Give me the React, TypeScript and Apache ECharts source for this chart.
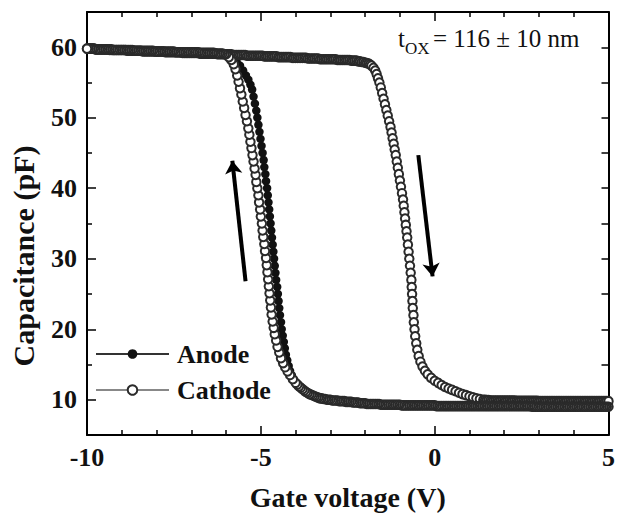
import React, { useEffect, useRef } from "react";
import * as echarts from "echarts";

const FONT = '"Liberation Serif", "Times New Roman", Times, serif';

// Forward sweep (-10 V -> +5 V), shared by both electrodes
const forwardSweep: number[][] = [
  [-10.0,59.8],[-9.95,59.8],[-9.9,59.8],[-9.85,59.8],[-9.8,59.8],[-9.75,59.7],[-9.7,59.7],[-9.65,59.7],[-9.6,59.7],[-9.55,59.7],
  [-9.5,59.7],[-9.45,59.7],[-9.4,59.7],[-9.35,59.6],[-9.3,59.6],[-9.25,59.6],[-9.2,59.6],[-9.15,59.6],[-9.1,59.6],[-9.05,59.6],
  [-9.0,59.6],[-8.95,59.6],[-8.9,59.6],[-8.85,59.5],[-8.8,59.5],[-8.75,59.5],[-8.7,59.5],[-8.65,59.5],[-8.6,59.5],[-8.55,59.5],
  [-8.5,59.5],[-8.45,59.5],[-8.4,59.4],[-8.35,59.4],[-8.3,59.4],[-8.25,59.4],[-8.2,59.4],[-8.15,59.4],[-8.1,59.4],[-8.05,59.4],
  [-8.0,59.4],[-7.95,59.4],[-7.9,59.4],[-7.85,59.4],[-7.8,59.4],[-7.75,59.3],[-7.7,59.3],[-7.65,59.3],[-7.6,59.3],[-7.55,59.3],
  [-7.5,59.3],[-7.45,59.3],[-7.4,59.3],[-7.35,59.3],[-7.3,59.3],[-7.25,59.2],[-7.2,59.2],[-7.15,59.2],[-7.1,59.2],[-7.05,59.2],
  [-7.0,59.2],[-6.95,59.2],[-6.9,59.2],[-6.85,59.2],[-6.8,59.2],[-6.75,59.1],[-6.7,59.1],[-6.65,59.1],[-6.6,59.1],[-6.55,59.1],
  [-6.5,59.1],[-6.45,59.1],[-6.4,59.1],[-6.35,59.1],[-6.3,59.1],[-6.25,59.0],[-6.2,59.0],[-6.15,59.0],[-6.1,59.0],[-6.05,59.0],
  [-6.0,59.0],[-5.95,59.0],[-5.9,59.0],[-5.85,59.0],[-5.8,58.9],[-5.75,58.9],[-5.7,58.9],[-5.65,58.9],[-5.6,58.9],[-5.55,58.9],
  [-5.5,58.9],[-5.45,58.9],[-5.4,58.8],[-5.35,58.8],[-5.3,58.8],[-5.25,58.8],[-5.2,58.8],[-5.15,58.8],[-5.1,58.8],[-5.05,58.8],
  [-5.0,58.8],[-4.95,58.8],[-4.9,58.7],[-4.85,58.7],[-4.8,58.7],[-4.75,58.7],[-4.7,58.7],[-4.65,58.7],[-4.6,58.7],[-4.55,58.7],
  [-4.5,58.6],[-4.45,58.6],[-4.4,58.6],[-4.35,58.6],[-4.3,58.6],[-4.25,58.6],[-4.2,58.6],[-4.15,58.6],[-4.1,58.5],[-4.05,58.5],
  [-4.0,58.5],[-3.95,58.5],[-3.9,58.5],[-3.85,58.5],[-3.8,58.5],[-3.75,58.5],[-3.7,58.5],[-3.65,58.4],[-3.6,58.4],[-3.55,58.4],
  [-3.5,58.4],[-3.45,58.4],[-3.4,58.4],[-3.35,58.4],[-3.3,58.3],[-3.25,58.3],[-3.2,58.3],[-3.15,58.3],[-3.1,58.3],[-3.05,58.3],
  [-3.0,58.3],[-2.95,58.3],[-2.9,58.3],[-2.85,58.3],[-2.8,58.2],[-2.75,58.2],[-2.7,58.2],[-2.65,58.2],[-2.6,58.2],[-2.55,58.2],
  [-2.5,58.2],[-2.45,58.2],[-2.4,58.1],[-2.35,58.1],[-2.3,58.1],[-2.25,58.1],[-2.2,58.0],[-2.15,58.0],[-2.1,57.9],[-2.05,57.9],
  [-2.0,57.8],[-1.95,57.75],[-1.9,57.7],[-1.86,57.55],[-1.82,57.4],[-1.76,57.1],[-1.71,56.7],[-1.67,56.2],[-1.63,55.6],[-1.59,55.0],
  [-1.55,54.3],[-1.51,53.5],[-1.47,52.7],[-1.43,51.9],[-1.39,51.1],[-1.35,50.3],[-1.31,49.5],[-1.27,48.7],[-1.24,47.9],[-1.21,47.1],
  [-1.18,46.3],[-1.15,45.5],[-1.12,44.7],[-1.09,43.8],[-1.06,42.9],[-1.03,42.0],[-1.0,41.1],[-0.97,40.2],[-0.94,39.3],[-0.91,38.4],
  [-0.89,37.5],[-0.87,36.6],[-0.85,35.7],[-0.83,34.8],[-0.81,33.9],[-0.79,33.0],[-0.77,32.0],[-0.75,31.0],[-0.73,30.0],[-0.71,29.0],
  [-0.69,28.0],[-0.67,27.0],[-0.66,26.0],[-0.65,25.0],[-0.64,24.0],[-0.63,23.0],[-0.61,22.0],[-0.6,21.0],[-0.58,20.0],[-0.56,19.0],
  [-0.53,18.0],[-0.5,17.1],[-0.46,16.2],[-0.41,15.4],[-0.35,14.7],[-0.28,14.1],[-0.2,13.6],[-0.1,13.1],[0.0,12.7],[0.1,12.4],
  [0.2,12.1],[0.3,11.8],[0.4,11.6],[0.5,11.4],[0.6,11.2],[0.7,11.0],[0.8,10.8],[0.9,10.65],[1.0,10.5],[1.1,10.35],
  [1.2,10.2],[1.3,10.1],[1.4,10.0],[1.45,10.0],[1.5,9.95],[1.55,9.95],[1.6,9.9],[1.65,9.9],[1.7,9.9],[1.75,9.9],
  [1.8,9.9],[1.85,9.9],[1.9,9.9],[1.95,9.9],[2.0,9.9],[2.05,9.9],[2.1,9.9],[2.15,9.9],[2.2,9.9],[2.25,9.9],
  [2.3,9.9],[2.35,9.85],[2.4,9.85],[2.45,9.85],[2.5,9.85],[2.55,9.85],[2.6,9.85],[2.65,9.85],[2.7,9.85],[2.75,9.85],
  [2.8,9.85],[2.85,9.85],[2.9,9.85],[2.95,9.85],[3.0,9.8],[3.05,9.8],[3.1,9.8],[3.15,9.8],[3.2,9.8],[3.25,9.8],
  [3.3,9.8],[3.35,9.8],[3.4,9.8],[3.45,9.8],[3.5,9.8],[3.55,9.8],[3.6,9.8],[3.65,9.8],[3.7,9.8],[3.75,9.8],
  [3.8,9.8],[3.85,9.8],[3.9,9.8],[3.95,9.8],[4.0,9.8],[4.05,9.8],[4.1,9.8],[4.15,9.8],[4.2,9.8],[4.25,9.8],
  [4.3,9.8],[4.35,9.8],[4.4,9.8],[4.45,9.8],[4.5,9.8],[4.55,9.8],[4.6,9.8],[4.65,9.8],[4.7,9.8],[4.75,9.8],
  [4.8,9.8],[4.85,9.8],[4.9,9.8],[4.95,9.8],[5.0,9.8],
];

// Reverse sweep, low-capacitance part (+5 V -> -3 V), shared
const reverseLow: number[][] = [
  [5.0,9.0],[4.95,9.0],[4.9,9.0],[4.85,9.0],[4.8,9.0],[4.75,9.0],[4.7,9.0],[4.65,9.0],[4.6,9.0],[4.55,9.0],
  [4.5,9.0],[4.45,9.0],[4.4,9.0],[4.35,9.0],[4.3,9.0],[4.25,9.0],[4.2,9.0],[4.15,9.0],[4.1,9.0],[4.05,9.0],
  [4.0,9.0],[3.95,9.0],[3.9,9.0],[3.85,9.0],[3.8,9.0],[3.75,9.0],[3.7,9.0],[3.65,9.0],[3.6,9.0],[3.55,9.0],
  [3.5,9.0],[3.45,9.0],[3.4,9.0],[3.35,9.0],[3.3,9.0],[3.25,9.0],[3.2,9.0],[3.15,9.0],[3.1,9.0],[3.05,9.0],
  [3.0,9.0],[2.95,9.0],[2.9,9.0],[2.85,9.0],[2.8,9.0],[2.75,9.1],[2.7,9.1],[2.65,9.1],[2.6,9.1],[2.55,9.1],
  [2.5,9.1],[2.45,9.1],[2.4,9.1],[2.35,9.1],[2.3,9.1],[2.25,9.1],[2.2,9.1],[2.15,9.1],[2.1,9.1],[2.05,9.1],
  [2.0,9.1],[1.95,9.1],[1.9,9.1],[1.85,9.1],[1.8,9.1],[1.75,9.1],[1.7,9.1],[1.65,9.1],[1.6,9.1],[1.55,9.1],
  [1.5,9.1],[1.45,9.1],[1.4,9.1],[1.35,9.1],[1.3,9.1],[1.25,9.1],[1.2,9.1],[1.15,9.1],[1.1,9.1],[1.05,9.1],
  [1.0,9.1],[0.95,9.1],[0.9,9.1],[0.85,9.1],[0.8,9.1],[0.75,9.1],[0.7,9.1],[0.65,9.1],[0.6,9.1],[0.55,9.1],
  [0.5,9.1],[0.45,9.1],[0.4,9.1],[0.35,9.1],[0.3,9.1],[0.25,9.1],[0.2,9.1],[0.15,9.1],[0.1,9.1],[0.05,9.1],
  [0.0,9.2],[-0.05,9.2],[-0.1,9.2],[-0.15,9.2],[-0.2,9.2],[-0.25,9.2],[-0.3,9.2],[-0.35,9.2],[-0.4,9.2],[-0.45,9.2],
  [-0.5,9.2],[-0.55,9.2],[-0.6,9.2],[-0.65,9.2],[-0.7,9.2],[-0.75,9.2],[-0.8,9.2],[-0.85,9.2],[-0.9,9.2],[-0.95,9.2],
  [-1.0,9.3],[-1.05,9.3],[-1.1,9.3],[-1.15,9.3],[-1.2,9.3],[-1.25,9.3],[-1.3,9.3],[-1.35,9.3],[-1.4,9.3],[-1.45,9.3],
  [-1.5,9.3],[-1.55,9.3],[-1.6,9.4],[-1.65,9.4],[-1.7,9.4],[-1.75,9.4],[-1.8,9.4],[-1.85,9.4],[-1.9,9.4],[-1.95,9.4],
  [-2.0,9.5],[-2.05,9.5],[-2.1,9.5],[-2.15,9.5],[-2.2,9.6],[-2.25,9.6],[-2.3,9.6],[-2.35,9.6],[-2.4,9.7],[-2.45,9.7],
  [-2.5,9.7],[-2.55,9.7],[-2.6,9.8],[-2.65,9.8],[-2.7,9.8],[-2.75,9.8],[-2.8,9.9],[-2.85,9.9],[-2.9,9.9],[-2.95,9.9],
  [-3.0,10.0],
];

// Reverse sweep, rising part - cathode
const reverseRiseCathode: number[][] = [
  [-3.05,10.0],[-3.1,10.0],[-3.15,10.1],[-3.2,10.1],[-3.25,10.2],[-3.3,10.2],[-3.35,10.3],[-3.4,10.4],[-3.45,10.5],[-3.5,10.6],
  [-3.55,10.7],[-3.6,10.8],[-3.65,10.95],[-3.7,11.1],[-3.75,11.3],[-3.8,11.5],[-3.85,11.7],[-3.9,11.9],[-3.95,12.15],[-4.0,12.4],
  [-4.08,12.9],[-4.16,13.5],[-4.23,14.0],[-4.3,14.6],[-4.36,15.2],[-4.42,15.9],[-4.47,16.7],[-4.52,17.5],[-4.56,18.4],[-4.6,19.3],
  [-4.63,20.2],[-4.66,21.1],[-4.69,22.1],[-4.71,23.1],[-4.73,24.1],[-4.75,25.1],[-4.77,26.1],[-4.79,27.1],[-4.81,28.1],[-4.83,29.1],
  [-4.85,30.1],[-4.88,31.1],[-4.9,32.1],[-4.93,33.1],[-4.95,34.0],[-4.97,35.0],[-5.0,36.0],[-5.02,37.0],[-5.05,38.0],[-5.07,39.0],
  [-5.1,40.0],[-5.13,40.9],[-5.15,41.9],[-5.18,42.8],[-5.21,43.8],[-5.24,44.7],[-5.27,45.7],[-5.3,46.6],[-5.33,47.6],[-5.36,48.5],
  [-5.4,49.5],[-5.44,50.4],[-5.48,51.4],[-5.52,52.3],[-5.56,53.3],[-5.6,54.2],[-5.64,55.1],[-5.68,56.0],[-5.73,56.9],[-5.78,57.6],
  [-5.85,58.2],[-5.92,58.6],
];

// Reverse sweep, rising part - anode
const reverseRiseAnode: number[][] = [
  [-3.05,10.0],[-3.1,10.0],[-3.15,10.1],[-3.2,10.1],[-3.25,10.2],[-3.3,10.2],[-3.35,10.3],[-3.4,10.4],[-3.45,10.5],[-3.5,10.6],
  [-3.55,10.7],[-3.6,10.8],[-3.65,10.95],[-3.7,11.1],[-3.75,11.3],[-3.8,11.5],[-3.85,11.7],[-3.9,11.9],[-3.94,12.15],[-3.98,12.4],
  [-4.05,12.9],[-4.11,13.5],[-4.16,14.1],[-4.2,14.8],[-4.24,15.6],[-4.28,16.4],[-4.31,17.3],[-4.34,18.2],[-4.37,19.1],[-4.4,20.0],
  [-4.42,21.0],[-4.45,22.0],[-4.47,23.0],[-4.49,24.0],[-4.51,25.0],[-4.53,26.0],[-4.56,27.0],[-4.58,28.0],[-4.6,29.0],[-4.62,30.0],
  [-4.64,31.0],[-4.66,32.0],[-4.68,33.0],[-4.7,34.0],[-4.72,35.0],[-4.74,36.0],[-4.76,37.0],[-4.78,38.0],[-4.8,39.0],[-4.82,40.0],
  [-4.85,41.0],[-4.87,42.0],[-4.9,43.0],[-4.92,44.0],[-4.95,45.0],[-4.98,46.0],[-5.01,47.0],[-5.04,48.0],[-5.07,49.0],[-5.1,50.0],
  [-5.13,51.0],[-5.17,52.0],[-5.21,53.0],[-5.25,54.0],[-5.3,54.7],[-5.36,55.4],[-5.43,56.0],[-5.51,56.7],[-5.6,57.4],[-5.7,58.0],
  [-5.82,58.5],[-5.95,58.8],
];

// Reverse sweep, high-capacitance part (-6 V -> -10 V), shared
const reverseHigh: number[][] = [
  [-6.0,59.0],[-6.05,59.0],[-6.1,59.1],[-6.15,59.1],[-6.2,59.1],[-6.25,59.1],[-6.3,59.1],[-6.35,59.2],[-6.4,59.2],[-6.45,59.2],
  [-6.5,59.2],[-6.55,59.2],[-6.6,59.2],[-6.65,59.2],[-6.7,59.2],[-6.75,59.2],[-6.8,59.3],[-6.85,59.3],[-6.9,59.3],[-6.95,59.3],
  [-7.0,59.3],[-7.05,59.3],[-7.1,59.3],[-7.15,59.3],[-7.2,59.3],[-7.25,59.3],[-7.3,59.3],[-7.35,59.3],[-7.4,59.3],[-7.45,59.3],
  [-7.5,59.4],[-7.55,59.4],[-7.6,59.4],[-7.65,59.4],[-7.7,59.4],[-7.75,59.4],[-7.8,59.4],[-7.85,59.4],[-7.9,59.4],[-7.95,59.4],
  [-8.0,59.4],[-8.05,59.4],[-8.1,59.5],[-8.15,59.5],[-8.2,59.5],[-8.25,59.5],[-8.3,59.5],[-8.35,59.5],[-8.4,59.5],[-8.45,59.5],
  [-8.5,59.5],[-8.55,59.5],[-8.6,59.5],[-8.65,59.5],[-8.7,59.6],[-8.75,59.6],[-8.8,59.6],[-8.85,59.6],[-8.9,59.6],[-8.95,59.6],
  [-9.0,59.6],[-9.05,59.6],[-9.1,59.6],[-9.15,59.6],[-9.2,59.6],[-9.25,59.6],[-9.3,59.7],[-9.35,59.7],[-9.4,59.7],[-9.45,59.7],
  [-9.5,59.7],[-9.55,59.7],[-9.6,59.7],[-9.65,59.7],[-9.7,59.7],[-9.75,59.7],[-9.8,59.8],[-9.85,59.8],[-9.9,59.8],[-9.95,59.8],
  [-10.0,59.8],
];

// Sweep-direction arrows: [tail, head] in data coordinates (V, pF)
const sweepArrows: number[][][] = [
  [[-5.44, 26.8], [-5.82, 43.9]],
  [[-0.47, 44.7], [-0.06, 27.5]],
];

const yMajorTicks = [10, 20, 30, 40, 50, 60];
const yMinorTicks = [15, 25, 35, 45, 55];
const yRightTicks = [10, 15, 20, 25, 30, 35, 40, 45, 50, 55, 60];
const seriesNames = ["Anode", "Cathode"];

export default function App() {
  const ref = useRef<HTMLDivElement>(null);

  useEffect(() => {
    if (!ref.current) return;
    const chart = echarts.init(ref.current, null, { renderer: "svg" });

    const anodeData = [...forwardSweep, ...reverseLow, ...reverseRiseAnode, ...reverseHigh];
    const cathodeData = [...forwardSweep, ...reverseLow, ...reverseRiseCathode, ...reverseHigh];

    const axisLine = { show: true, onZero: false, lineStyle: { color: "#000", width: 2 } };
    const tickStyle = { color: "#000", width: 1.5 };
    const labelFont = { fontFamily: FONT, fontWeight: "bold" as const, fontSize: 26, color: "#111" };

    const option: any = {
      animation: false,
      backgroundColor: "#fff",
      grid: { left: 87, right: 6, top: 12, bottom: 75 },
      xAxis: [
        {
          type: "value", position: "bottom", min: -10, max: 5, interval: 5,
          axisLine,
          axisTick: { show: true, inside: true, length: 9, lineStyle: tickStyle },
          minorTick: { show: true, splitNumber: 5, length: 5, lineStyle: tickStyle },
          splitLine: { show: false }, minorSplitLine: { show: false },
          axisLabel: { ...labelFont, margin: 9 },
          name: "Gate voltage (V)", nameLocation: "middle", nameGap: 48,
          nameTextStyle: { fontFamily: FONT, fontWeight: "bold", fontSize: 28, color: "#111" },
        },
        {
          type: "value", position: "top", min: -10, max: 5, interval: 5,
          axisLine,
          axisTick: { show: true, inside: true, length: 9, lineStyle: tickStyle },
          minorTick: { show: true, splitNumber: 5, length: 5, lineStyle: tickStyle },
          splitLine: { show: false }, minorSplitLine: { show: false },
          axisLabel: { show: false },
        },
      ],
      yAxis: [
        {
          type: "value", position: "left", min: 5, max: 65,
          axisLine,
          axisTick: { show: true, inside: true, length: 9, lineStyle: tickStyle, customValues: yMajorTicks },
          axisLabel: { ...labelFont, margin: 10, customValues: yMajorTicks },
          splitLine: { show: false },
        },
        {
          type: "value", position: "left", min: 5, max: 65,
          axisLine: { show: false, onZero: false },
          axisTick: { show: true, inside: true, length: 5, lineStyle: tickStyle, customValues: yMinorTicks },
          axisLabel: { show: false },
          splitLine: { show: false },
        },
        {
          type: "value", position: "right", min: 5, max: 65,
          axisLine,
          axisTick: { show: true, inside: true, length: 7, lineStyle: tickStyle, customValues: yRightTicks },
          axisLabel: { show: false },
          splitLine: { show: false },
        },
      ],
      legend: {
        data: seriesNames,
        orient: "vertical",
        left: 90,
        top: 336,
        itemWidth: 73,
        itemHeight: 12,
        itemGap: 10,
        lineStyle: { width: 2 },
        textStyle: {
          fontFamily: FONT, fontWeight: "bold", fontSize: 26, lineHeight: 26,
          color: "#111", padding: [0, 0, 0, 3],
        },
      },
      series: [
        {
          name: seriesNames[0], type: "line", xAxisIndex: 0, yAxisIndex: 0,
          data: anodeData, symbol: "circle", symbolSize: 8.5, showSymbol: true,
          itemStyle: { color: "#111" },
          lineStyle: { color: "#333", width: 1 },
          z: 2,
        },
        {
          name: seriesNames[1], type: "line", xAxisIndex: 0, yAxisIndex: 0,
          data: cathodeData, symbol: "emptyCircle", symbolSize: 8.5, showSymbol: true,
          itemStyle: { color: "#2a2a2a", borderWidth: 1.2 },
          lineStyle: { color: "#888", width: 1 },
          z: 3,
        },
        {
          name: "sweep", type: "lines", coordinateSystem: "cartesian2d", xAxisIndex: 0, yAxisIndex: 0,
          data: sweepArrows.map((c) => ({ coords: c })),
          symbol: ["none", "arrow"], symbolSize: 13,
          lineStyle: { color: "#000", width: 4, opacity: 1, curveness: 0 },
          z: 4,
        },
      ],
      graphic: [
        {
          type: "text", x: 23, y: 256, rotation: Math.PI / 2,
          style: {
            text: "Capacitance (pF)", fontFamily: FONT, fontWeight: "bold", fontSize: 30,
            fill: "#111", align: "center", verticalAlign: "middle",
          },
        },
        {
          type: "text", x: 398, y: 38,
          style: { text: "t", fontFamily: FONT, fontSize: 25, fill: "#111", align: "left", verticalAlign: "middle" },
        },
        {
          type: "text", x: 405, y: 48,
          style: { text: "OX", fontFamily: FONT, fontSize: 17, fill: "#111", align: "left", verticalAlign: "middle" },
        },
        {
          type: "text", x: 433, y: 38,
          style: { text: "= 116 ± 10 nm", fontFamily: FONT, fontSize: 25, fill: "#111", align: "left", verticalAlign: "middle" },
        },
      ],
    };

    chart.setOption(option);
    return () => chart.dispose();
  }, []);

  return (
    <div
      ref={ref}
      style={{ position: "fixed", left: 0, top: 0, width: 618, height: 516, background: "#fff" }}
    />
  );
}
